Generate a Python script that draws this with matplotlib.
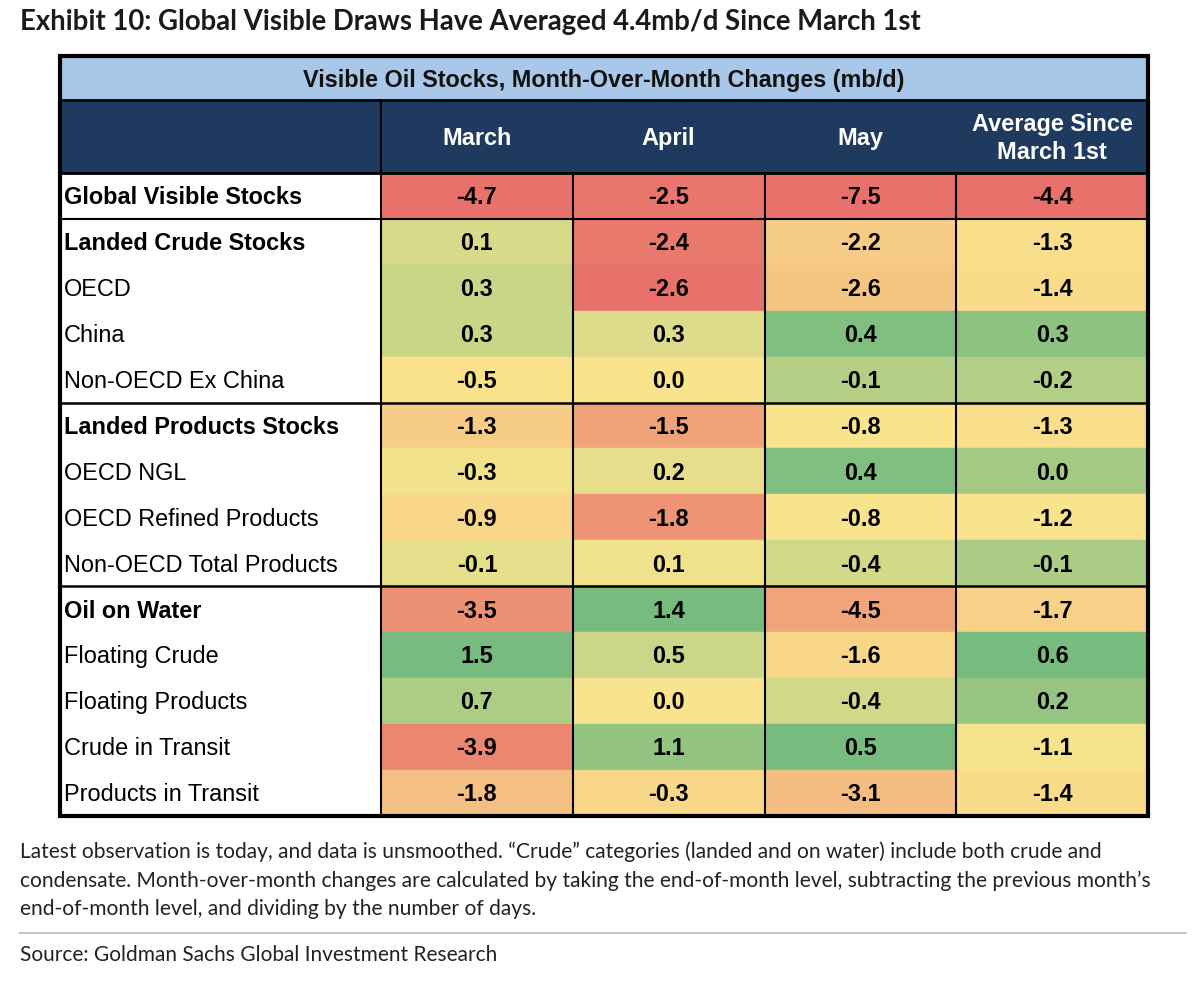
import numpy as np
import matplotlib
matplotlib.use("Agg")
import matplotlib.pyplot as plt
from matplotlib.colors import LinearSegmentedColormap, TwoSlopeNorm
from matplotlib.patches import Rectangle

# data
row_labels = ["Global Visible Stocks", "Landed Crude Stocks", "OECD", "China",
              "Non-OECD Ex China", "Landed Products Stocks", "OECD NGL",
              "OECD Refined Products", "Non-OECD Total Products", "Oil on Water",
              "Floating Crude", "Floating Products", "Crude in Transit",
              "Products in Transit"]
bold_rows = ["Global Visible Stocks", "Landed Crude Stocks",
             "Landed Products Stocks", "Oil on Water"]
col_labels = ["March", "April", "May", "Average Since\nMarch 1st"]
march = [-4.7, 0.1, 0.3, 0.3, -0.5, -1.3, -0.3, -0.9, -0.1, -3.5, 1.5, 0.7, -3.9, -1.8]
april = [-2.5, -2.4, -2.6, 0.3, 0.0, -1.5, 0.2, -1.8, 0.1, 1.4, 0.5, 0.0, 1.1, -0.3]
may = [-7.5, -2.2, -2.6, 0.4, -0.1, -0.8, 0.4, -0.8, -0.4, -4.5, -1.6, -0.4, 0.5, -3.1]
avg_since = [-4.4, -1.3, -1.4, 0.3, -0.2, -1.3, 0.0, -1.2, -0.1, -1.7, 0.6, 0.2, -1.1, -1.4]
columns = [march, april, may, avg_since]
group_breaks = [1, 5, 9]  # line above these rows

title = "Exhibit 10: Global Visible Draws Have Averaged 4.4mb/d Since March 1st"
table_title = "Visible Oil Stocks, Month-Over-Month Changes (mb/d)"
note = ("Latest observation is today, and data is unsmoothed. \u201cCrude\u201d categories (landed and on water) include both crude and\n"
        "condensate. Month-over-month changes are calculated by taking the end-of-month level, subtracting the previous month\u2019s\n"
        "end-of-month level, and dividing by the number of days.")
source = "Source: Goldman Sachs Global Investment Research"

# excel-like 3 colour scale
cmap = LinearSegmentedColormap.from_list("ryg", ["#E8716B", "#FAE48D", "#77BC7E"])

fig = plt.figure(figsize=(12, 9.87), dpi=100)
ax = fig.add_axes([0, 0, 1, 1])
ax.set_xlim(0, 1200)
ax.set_ylim(987, 0)
ax.axis("off")

left, right = 60, 1148
label_w = 321
col_w = (right - left - label_w) / 4
top = 57
h_title = 44
h_head = 73
row_h = 45.9
y_rows = top + h_title + h_head

tbl_font = "Liberation Sans"
fs = 16.9

# header rows
ax.add_patch(Rectangle((left, top), right - left, h_title, color="#A9C7E8", zorder=1))
ax.text((left + right) / 2, top + h_title / 2 + 1, table_title, ha="center", va="center",
        fontsize=16.8, fontweight="bold", family=tbl_font, color="#111111", zorder=3)
ax.add_patch(Rectangle((left, top + h_title), right - left, h_head, color="#1F3A5F", zorder=1))
for j, lab in enumerate(col_labels):
    cx = left + label_w + col_w * (j + 0.5)
    ax.text(cx, top + h_title + h_head / 2 + 1, lab, ha="center", va="center",
            fontsize=fs, fontweight="bold", family=tbl_font, color="white",
            linespacing=1.3, zorder=3)

# body
for i, lab in enumerate(row_labels):
    y0 = y_rows + i * row_h
    ax.text(left + 4, y0 + row_h / 2 + 1, lab, ha="left", va="center", fontsize=fs,
            fontweight="bold" if lab in bold_rows else "normal",
            family=tbl_font, color="black", zorder=3)
for j, vals in enumerate(columns):
    v = np.array(vals)
    norm = TwoSlopeNorm(vcenter=np.median(v), vmin=v.min(), vmax=v.max())
    x0 = left + label_w + col_w * j
    for i, val in enumerate(vals):
        y0 = y_rows + i * row_h
        ax.add_patch(Rectangle((x0, y0), col_w, row_h, color=cmap(norm(val)), zorder=1))
        ax.text(x0 + col_w / 2, y0 + row_h / 2 + 1, f"{val:.1f}", ha="center", va="center",
                fontsize=fs, fontweight="bold", family=tbl_font, color="black", zorder=3)

bottom = y_rows + len(row_labels) * row_h
# lines
ax.plot([left, right], [top + h_title, top + h_title], color="black", lw=2, zorder=4)
ax.plot([left, right], [y_rows, y_rows], color="black", lw=2, zorder=4)
ax.plot([left, right], [y_rows + row_h, y_rows + row_h], color="black", lw=1.5, zorder=4)
for b in group_breaks[1:]:
    ax.plot([left, right], [y_rows + b * row_h] * 2, color="black", lw=1.8, zorder=4)
ax.plot([left + label_w] * 2, [top + h_title, bottom], color="black", lw=1.5, zorder=4)
for j in range(1, 4):
    x = left + label_w + col_w * j
    ax.plot([x, x], [y_rows, bottom], color="black", lw=1.5, zorder=4)
ax.add_patch(Rectangle((left, top), right - left, bottom - top, fill=False,
                       edgecolor="black", lw=3, zorder=5))

# titles and notes
ax.text(20, 22, title, ha="left", va="center", fontsize=19.85, fontweight="bold",
        family="Lato", color="#1a1a1a")
ax.text(20, 880, note, ha="left", va="center", fontsize=15.1, family="Lato",
        color="#222222", linespacing=1.5)
ax.plot([20, 1186], [934, 934], color="#C8C8C8", lw=1.5)
ax.text(20, 955, source, ha="left", va="center", fontsize=15, family="Lato",
        color="#222222")

fig.savefig("out.png", dpi=100, facecolor="white")
